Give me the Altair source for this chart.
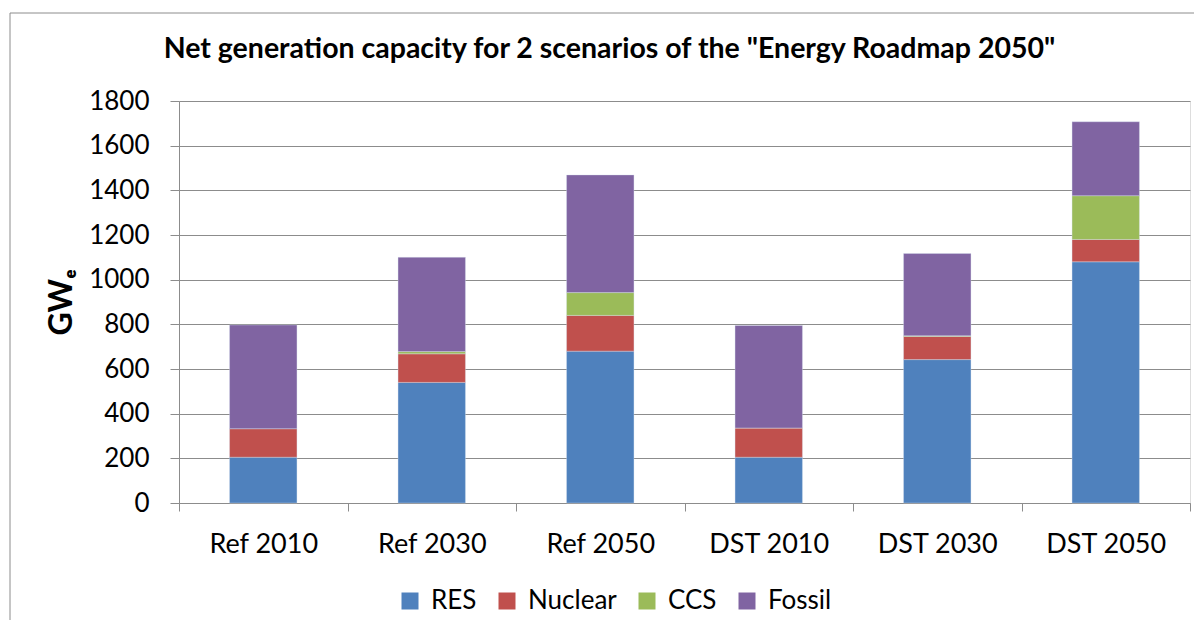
import altair as alt
import pandas as pd

categories = ["Ref 2010", "Ref 2030", "Ref 2050", "DST 2010", "DST 2030", "DST 2050"]
series = ["RES", "Nuclear", "CCS", "Fossil"]
colors = ["#4F81BD", "#C0504D", "#9BBB59", "#8064A2"]
res = [205, 540, 680, 205, 642, 1080]
nuclear = [128, 128, 160, 131, 104, 100]
ccs = [0, 10, 102, 0, 3, 196]
fossil = [464, 422, 527, 459, 368, 331]
y_ticks = list(range(0, 1801, 200))

rows = []
for name, vals in zip(series, [res, nuclear, ccs, fossil]):
    for cat, v in zip(categories, vals):
        rows.append({"Scenario": cat, "Type": name, "GW": v, "k": series.index(name)})
df = pd.DataFrame(rows)

FONT = "Lato"
GRID = "#8C8C8C"

bars = alt.Chart(df).mark_bar(width=alt.RelativeBandSize(0.4), stroke="#D8E2F0", strokeWidth=0.6, strokeOpacity=0.6).encode(
    x=alt.X("Scenario:N", sort=categories, title=None,
            scale=alt.Scale(paddingInner=0, paddingOuter=0),
            axis=alt.Axis(tickBand="extent", labelAngle=0, labelFont=FONT, labelFontSize=27,
                          labelColor="black", tickSize=8, tickColor=GRID, domainColor=GRID,
                          labelPadding=20, grid=False)),
    y=alt.Y("GW:Q", title="GWₑ",
            scale=alt.Scale(domain=[0, 1800], nice=False),
            axis=alt.Axis(values=y_ticks, format="d", labelFont=FONT, labelFontSize=26, labelColor="black",
                          tickSize=9, tickColor=GRID, domainColor=GRID, gridColor=GRID,
                          labelPadding=21, titleFont=FONT, titleFontSize=32, titleFontWeight="bold",
                          titleColor="black", titleAngle=-90, titleX=-108, titleY=201,
                          titleBaseline="alphabetic", titleAlign="center")),
    color=alt.Color("Type:N", sort=series,
                    scale=alt.Scale(domain=series, range=colors),
                    legend=alt.Legend(title=None, orient="none", legendX=218, legendY=487,
                                      direction="horizontal", symbolType="square",
                                      symbolSize=289, symbolStrokeWidth=0, labelFont=FONT,
                                      labelFontSize=26, labelColor="black", labelOffset=8,
                                      columnPadding=17, padding=0)),
    order=alt.Order("k:Q", sort="ascending"),
)

frame = alt.Chart(alt.Data(values=[{}])).mark_rect(fill="transparent", stroke="#8C8C8C", strokeWidth=1).encode(
    x=alt.value(-169), x2=alt.value(1100), y=alt.value(-88), y2=alt.value(700)
)

chart = alt.layer(frame, bars).properties(
    width=1011, height=402,
    autosize=alt.AutoSizeParams(type="none"),
    padding={"left": 171, "top": 93, "right": 4, "bottom": 117},
    title=alt.TitleParams(text='Net generation capacity for 2 scenarios of the "Energy Roadmap 2050"',
                          font=FONT, fontSize=28.5, fontWeight="bold", color="black",
                          anchor="middle", dx=-75, offset=-74, baseline="alphabetic"),
).configure_view(strokeWidth=0).configure(background="white")

chart.save("out.html", embed_options={"renderer": "svg", "actions": False})
